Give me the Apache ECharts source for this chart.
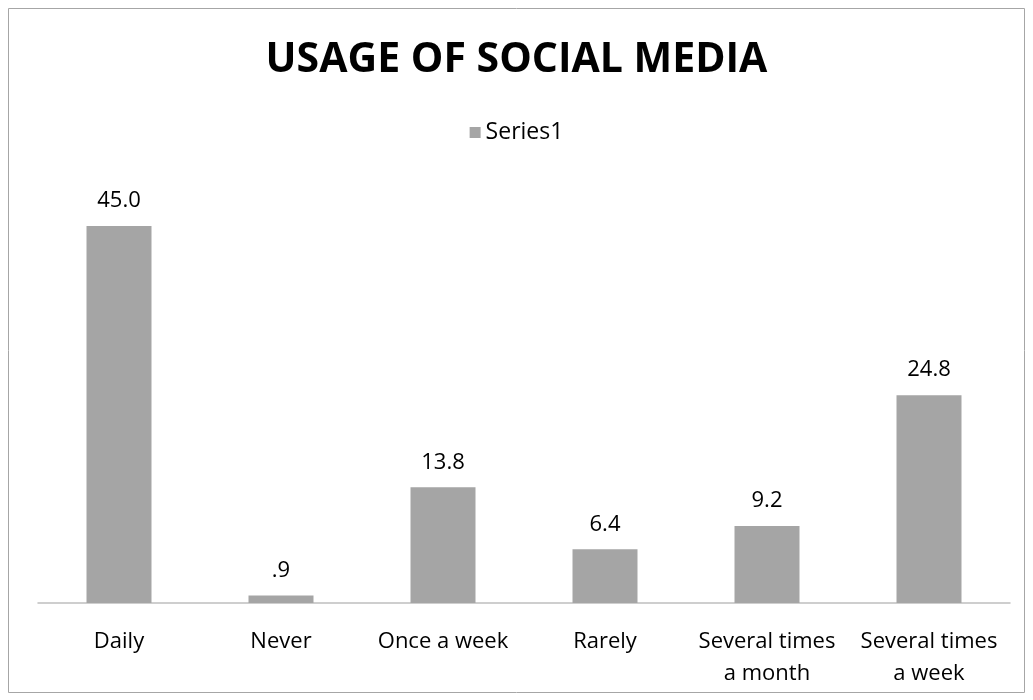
<!DOCTYPE html>
<html>
<head>
<meta charset="utf-8">
<script src="https://cdn.jsdelivr.net/npm/echarts@6/dist/echarts.min.js"></script>
<style>
  html, body { margin: 0; padding: 0; background: #fff; }
  #chart { width: 1033px; height: 700px; }
</style>
</head>
<body>
<div id="chart"></div>
<script>
// Frequency of social media use (percent of respondents)
const categories = ['Daily', 'Never', 'Once a week', 'Rarely', 'Several times\na month', 'Several times\na week'];
const usageValues = [45.0, 0.9, 13.8, 6.4, 9.2, 24.8];
const seriesName = 'Series1';
const chartTitle = 'USAGE OF SOCIAL MEDIA';

const FONT = "'Open Sans', 'Liberation Sans', sans-serif";
const BAR_COLOR = '#a5a5a5';

// Excel-style label: one decimal, no leading zero
function fmt(v) {
  let s = v.toFixed(1);
  if (s.startsWith('0.')) s = s.slice(1);
  return s;
}

const chart = echarts.init(document.getElementById('chart'), null, { renderer: 'canvas' });
chart.setOption({
  backgroundColor: '#fff',
  animation: false,
  title: {
    text: chartTitle,
    left: 'center',
    top: 35,
    textStyle: { fontFamily: FONT, fontSize: 41, fontWeight: 'bold', color: '#000' }
  },
  legend: {
    data: [seriesName],
    left: 'center',
    top: 116,
    icon: 'rect',
    itemWidth: 11,
    itemHeight: 11,
    itemGap: 4,
    textStyle: { fontFamily: FONT, fontSize: 23, color: '#000' }
  },
  grid: { left: 38, right: 23, top: 184, bottom: 97, containLabel: false },
  xAxis: {
    type: 'category',
    data: categories,
    axisLine: { lineStyle: { color: '#bfbfbf', width: 1.5 } },
    axisTick: { show: false },
    axisLabel: {
      fontFamily: FONT, fontSize: 22, color: '#000',
      margin: 23, lineHeight: 32, interval: 0
    }
  },
  yAxis: {
    type: 'value',
    min: 0,
    max: 50,
    show: false,
    splitLine: { show: false }
  },
  series: [{
    name: seriesName,
    type: 'bar',
    data: usageValues,
    barWidth: 65,
    itemStyle: { color: BAR_COLOR },
    label: {
      show: true,
      position: 'top',
      distance: 14,
      formatter: p => fmt(p.value),
      fontFamily: FONT, fontSize: 22, color: '#000'
    }
  }],
  graphic: [{
    type: 'rect',
    shape: { x: 8.5, y: 8.5, width: 1016, height: 684 },
    style: { fill: 'none', stroke: '#a6a6a6', lineWidth: 1 },
    silent: true
  }]
});
</script>
</body>
</html>
